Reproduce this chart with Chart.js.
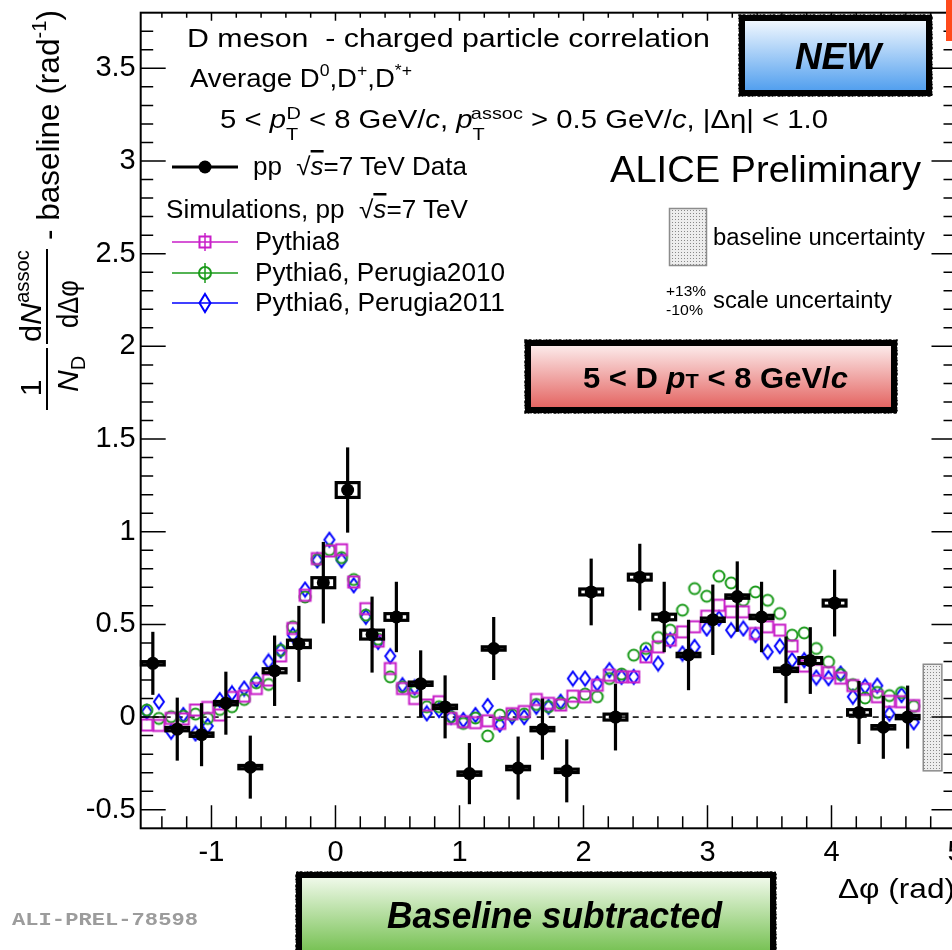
<!DOCTYPE html>
<html lang="en">
<head>
  <meta charset="UTF-8" />
  <title>D meson - charged particle correlation</title>
  <script src="https://cdn.jsdelivr.net/npm/chart.js"></script>
  <style>
    html, body { margin: 0; padding: 0; background: #fff; overflow: hidden; }
    #wrap { position: relative; width: 1000px; height: 950px; }
    #wrap canvas { position: absolute; left: 0; top: 0; }
    #notes { position: absolute; left: 0; top: 0; pointer-events: none; }
    #notes text { font-family: "Liberation Sans", Arial, Helvetica, sans-serif; fill: #000; }
  </style>
</head>
<body>
  <div id="wrap">
    <canvas id="corr" width="1000" height="950"></canvas>

    <svg id="notes" width="952" height="950" viewBox="0 0 952 950" xmlns="http://www.w3.org/2000/svg">
      <defs>
        <linearGradient id="gNew" x1="0" y1="0" x2="0" y2="1">
          <stop offset="0" stop-color="#f7fbff" />
          <stop offset="1" stop-color="#4c9cee" />
        </linearGradient>
        <linearGradient id="gPink" x1="0" y1="0" x2="0" y2="1">
          <stop offset="0" stop-color="#fdf0f0" />
          <stop offset="1" stop-color="#e35f5c" />
        </linearGradient>
        <linearGradient id="gGreen" x1="0" y1="0" x2="0" y2="1">
          <stop offset="0" stop-color="#f4fbef" />
          <stop offset="1" stop-color="#69bb42" />
        </linearGradient>
        <pattern id="dots" width="3" height="3" patternUnits="userSpaceOnUse">
          <rect width="3" height="3" fill="#ededed" />
          <rect width="1" height="1" fill="#888" />
        </pattern>
      </defs>

      <!-- red tab, top right -->
      <rect x="946" y="0" width="6" height="41" fill="#ff4a1c" />

      <!-- y axis title -->
      <g transform="translate(12,412) rotate(-90)">
        <text x="24" y="29" font-size="30" text-anchor="middle">1</text>
        <line x1="2" y1="35" x2="64" y2="35" stroke="#000" stroke-width="2" />
        <text x="20" y="66" font-size="30"><tspan font-style="italic">N</tspan><tspan font-size="20" dy="7">D</tspan></text>
        <text x="70" y="29" font-size="30" textLength="92" lengthAdjust="spacingAndGlyphs">d<tspan font-style="italic">N</tspan><tspan font-size="20" dy="-12">assoc</tspan></text>
        <line x1="68" y1="35" x2="163" y2="35" stroke="#000" stroke-width="2" />
        <text x="84" y="66" font-size="30" textLength="48" lengthAdjust="spacingAndGlyphs">dΔφ</text>
        <text x="172" y="47" font-size="31" textLength="230" lengthAdjust="spacingAndGlyphs">- baseline (rad<tspan font-size="20" dy="-13">-1</tspan><tspan dy="13">)</tspan></text>
      </g>

      <!-- header lines -->
      <text x="187" y="47" font-size="26" textLength="523" lengthAdjust="spacingAndGlyphs">D meson&#160; - charged particle correlation</text>
      <text x="190" y="87" font-size="25" textLength="222" lengthAdjust="spacingAndGlyphs">Average D<tspan font-size="16" dy="-11">0</tspan><tspan dy="11">,D</tspan><tspan font-size="16" dy="-11">+</tspan><tspan dy="11">,D</tspan><tspan font-size="16" dy="-11">*+</tspan></text>
      <text x="220" y="128" font-size="25" textLength="608" lengthAdjust="spacingAndGlyphs">5 &lt; <tspan font-style="italic">p</tspan><tspan font-size="17" dy="12">T</tspan><tspan font-size="17" dx="-10" dy="-21">D</tspan><tspan dy="9"> &lt; 8 GeV/</tspan><tspan font-style="italic">c</tspan>, <tspan font-style="italic">p</tspan><tspan font-size="17" dy="12">T</tspan><tspan font-size="17" dx="-10" dy="-21">assoc</tspan><tspan dy="9"> &gt; 0.5 GeV/</tspan><tspan font-style="italic">c</tspan>, |Δη| &lt; 1.0</text>

      <!-- legend -->
      <line x1="172" y1="167" x2="238" y2="167" stroke="#000" stroke-width="3" />
      <circle cx="205" cy="167" r="6.5" fill="#000" />
      <text x="253" y="175" font-size="25" textLength="214" lengthAdjust="spacingAndGlyphs">pp&#160; √<tspan font-style="italic" text-decoration="overline">s</tspan>=7 TeV Data</text>
      <text x="166" y="218" font-size="25" textLength="302" lengthAdjust="spacingAndGlyphs">Simulations, pp&#160; √<tspan font-style="italic" text-decoration="overline">s</tspan>=7 TeV</text>

      <line x1="172" y1="242" x2="238" y2="242" stroke="#c81ec8" stroke-width="1.5" />
      <line x1="205" y1="233" x2="205" y2="251" stroke="#c81ec8" stroke-width="1.5" />
      <rect x="199.5" y="236.5" width="11" height="11" fill="none" stroke="#c81ec8" stroke-width="2" />
      <text x="255" y="250" font-size="25" textLength="85" lengthAdjust="spacingAndGlyphs">Pythia8</text>

      <line x1="172" y1="273" x2="238" y2="273" stroke="#1a9a1a" stroke-width="1.5" />
      <line x1="205" y1="263" x2="205" y2="283" stroke="#1a9a1a" stroke-width="1.5" />
      <circle cx="205" cy="273" r="6" fill="none" stroke="#1a9a1a" stroke-width="2" />
      <text x="255" y="281" font-size="25" textLength="250" lengthAdjust="spacingAndGlyphs">Pythia6, Perugia2010</text>

      <line x1="172" y1="303" x2="238" y2="303" stroke="#0000ff" stroke-width="1.5" />
      <polygon points="205,294 210.5,303 205,312 199.5,303" fill="none" stroke="#0000ff" stroke-width="2" />
      <text x="255" y="311" font-size="25" textLength="250" lengthAdjust="spacingAndGlyphs">Pythia6, Perugia2011</text>

      <text x="610" y="182" font-size="36" textLength="311" lengthAdjust="spacingAndGlyphs">ALICE Preliminary</text>

      <rect x="669.5" y="208.5" width="37" height="57" fill="url(#dots)" stroke="#8c8c8c" stroke-width="1.5" />
      <text x="713" y="245" font-size="23.5" textLength="212" lengthAdjust="spacingAndGlyphs">baseline uncertainty</text>
      <text x="666" y="296" font-size="15" textLength="40" lengthAdjust="spacingAndGlyphs">+13%</text>
      <text x="666" y="315" font-size="15" textLength="37" lengthAdjust="spacingAndGlyphs">-10%</text>
      <text x="713" y="308" font-size="23.5" textLength="179" lengthAdjust="spacingAndGlyphs">scale uncertainty</text>

      <!-- NEW tag -->
      <rect x="742" y="18" width="187" height="75" fill="url(#gNew)" stroke="#000" stroke-width="6" />
      <rect x="739.5" y="15.5" width="192" height="80" fill="none" stroke="#000" stroke-width="2.5" stroke-dasharray="2 1 3 2 1 1" />
      <text x="838" y="69" font-size="37" font-weight="bold" font-style="italic" text-anchor="middle" textLength="86" lengthAdjust="spacingAndGlyphs">NEW</text>

      <!-- pT tag -->
      <rect x="528" y="343" width="366" height="67" fill="url(#gPink)" stroke="#000" stroke-width="6" />
      <rect x="525.5" y="340.5" width="371" height="72" fill="none" stroke="#000" stroke-width="2.5" stroke-dasharray="2 1 3 2 1 1" />
      <text x="583" y="388" font-size="30" font-weight="bold" textLength="265" lengthAdjust="spacingAndGlyphs">5 &lt; D <tspan font-style="italic">p</tspan><tspan font-size="21">T</tspan> &lt; 8 GeV/<tspan font-style="italic">c</tspan></text>

      <!-- x axis title -->
      <text x="838" y="898" font-size="28" textLength="117" lengthAdjust="spacingAndGlyphs">Δφ (rad)</text>

      <!-- baseline subtracted tag -->
      <rect x="299" y="875" width="474" height="85" fill="url(#gGreen)" stroke="#000" stroke-width="6" />
      <rect x="296.5" y="872.5" width="479" height="90" fill="none" stroke="#000" stroke-width="2.5" stroke-dasharray="2 1 3 2 1 1" />
      <text x="387" y="928" font-size="36" font-weight="bold" font-style="italic" textLength="335" lengthAdjust="spacingAndGlyphs">Baseline subtracted</text>

      <text x="12" y="925" font-size="19" font-weight="bold" textLength="186" lengthAdjust="spacingAndGlyphs" style="font-family: 'Liberation Mono', 'DejaVu Sans Mono', monospace; fill: #9c9c9c;">ALI-PREL-78598</text>
    </svg>
  </div>

  <script>
    // axis ranges and tick labels
    const xRange = [-1.5708, 5.0];
    const yRange = [-0.6, 3.8];
    const xTickLabels = [-1, 0, 1, 2, 3, 4, 5];
    const yTickLabels = [-0.5, 0, 0.5, 1, 1.5, 2, 2.5, 3, 3.5];

    // pp 7 TeV data, bin centres in delta phi
    const dataX = [-1.473, -1.276, -1.080, -0.884, -0.687, -0.491, -0.295, -0.098,
                    0.098,  0.295,  0.491,  0.687,  0.884,  1.080,  1.276,  1.473,
                    1.669,  1.865,  2.062,  2.258,  2.454,  2.651,  2.847,  3.043,
                    3.240,  3.436,  3.633,  3.829,  4.025,  4.222,  4.418,  4.614];
    const dataY = [0.29, -0.065, -0.095, 0.075, -0.27, 0.25, 0.395, 0.725,
                   1.225, 0.445, 0.54, 0.18, 0.055, -0.305, 0.37, -0.275,
                   -0.065, -0.29, 0.675, 0.0, 0.755, 0.54, 0.335, 0.525,
                   0.65, 0.54, 0.255, 0.305, 0.615, 0.025, -0.055, 0.0];
    const statErr = [0.17, 0.17, 0.17, 0.17, 0.17, 0.19, 0.205, 0.22,
                     0.23, 0.205, 0.19, 0.18, 0.17, 0.165, 0.17, 0.17,
                     0.165, 0.17, 0.18, 0.18, 0.18, 0.19, 0.19, 0.19,
                     0.19, 0.19, 0.18, 0.18, 0.18, 0.17, 0.17, 0.17];
    const sysErr = [0.009, 0.009, 0.009, 0.009, 0.009, 0.011, 0.02, 0.027,
                    0.04, 0.024, 0.018, 0.009, 0.009, 0.009, 0.009, 0.009,
                    0.009, 0.009, 0.016, 0.016, 0.016, 0.015, 0.009, 0.009,
                    0.009, 0.009, 0.009, 0.016, 0.016, 0.015, 0.009, 0.009];

    // simulations, finer binning
    const simX = [-1.522, -1.424, -1.325, -1.227, -1.129, -1.031, -0.933, -0.835,
                  -0.736, -0.638, -0.540, -0.442, -0.344, -0.245, -0.147, -0.049,
                   0.049,  0.147,  0.245,  0.344,  0.442,  0.540,  0.638,  0.736,
                   0.835,  0.933,  1.031,  1.129,  1.227,  1.325,  1.424,  1.522,
                   1.620,  1.718,  1.816,  1.914,  2.013,  2.111,  2.209,  2.307,
                   2.405,  2.504,  2.602,  2.700,  2.798,  2.896,  2.994,  3.093,
                   3.191,  3.289,  3.387,  3.485,  3.583,  3.682,  3.780,  3.878,
                   3.976,  4.074,  4.172,  4.271,  4.369,  4.467,  4.565,  4.663];
    const pythia8 = [-0.043, -0.045, -0.007, -0.01, 0.038, 0.052, 0.011, 0.106,
                     0.113, 0.154, 0.2, 0.33, 0.478, 0.657, 0.855, 0.896,
                     0.903, 0.729, 0.585, 0.41, 0.262, 0.154, 0.1, 0.065,
                     0.083, -0.007, -0.025, -0.03, -0.02, -0.034, 0.018, 0.03,
                     0.095, 0.074, 0.065, 0.113, 0.11, 0.172, 0.226, 0.217,
                     0.217, 0.325, 0.379, 0.415, 0.46, 0.487, 0.544, 0.603,
                     0.568, 0.568, 0.451, 0.487, 0.469, 0.383, 0.275, 0.253,
                     0.24, 0.21, 0.17, 0.15, 0.11, 0.085, 0.083, 0.062];
    const perugia2010 = [0.038, -0.007, 0.002, 0.005, 0.016, -0.007, 0.041, 0.056,
                         0.095, 0.185, 0.176, 0.36, 0.487, 0.648, 0.85, 0.903,
                         0.86, 0.742, 0.55, 0.42, 0.217, 0.163, 0.137, 0.056,
                         0.056, 0.002, -0.034, -0.005, -0.102, 0.011, 0.013, 0.016,
                         0.068, 0.056, 0.074, 0.077, 0.124, 0.11, 0.208, 0.232,
                         0.334, 0.37, 0.429, 0.469, 0.577, 0.693, 0.652, 0.76,
                         0.724, 0.63, 0.675, 0.63, 0.559, 0.442, 0.454, 0.37,
                         0.298, 0.23, 0.175, 0.103, 0.133, 0.116, 0.132, 0.058];
    const perugia2011 = [0.029, 0.083, -0.079, 0.011, -0.088, -0.048, 0.092, 0.128,
                         0.154, 0.2, 0.3, 0.36, 0.442, 0.688, 0.846, 0.957,
                         0.846, 0.711, 0.541, 0.406, 0.329, 0.172, 0.16, 0.02,
                         0.038, 0.002, -0.016, 0.011, 0.06, -0.04, 0.002, 0.0,
                         0.056, 0.056, 0.083, 0.208, 0.208, 0.181, 0.253, 0.217,
                         0.217, 0.343, 0.289, 0.415, 0.343, 0.379, 0.478, 0.532,
                         0.469, 0.478, 0.442, 0.352, 0.383, 0.307, 0.307, 0.213,
                         0.21, 0.235, 0.11, 0.165, 0.17, 0.018, 0.119, -0.028];

    // baseline uncertainty band drawn at the right edge
    const baselineUncX = [4.74, 4.89];
    const baselineUnc = [-0.29, 0.285];
    const zeroLineEnd = 4.712;

    const simColors = { p8: '#c81ec8', p2010: '#1a9a1a', p2011: '#0000ff' };
    const boxHalfWidth = 0.092;

    function markerCanvas(w, h, draw) {
      const c = document.createElement('canvas');
      c.width = w;
      c.height = h;
      const g = c.getContext('2d');
      g.lineWidth = 2;
      draw(g);
      return c;
    }

    const squareMark = markerCanvas(16, 16, g => {
      g.strokeStyle = simColors.p8;
      g.strokeRect(2.5, 2.5, 11, 11);
    });
    const circleMark = markerCanvas(16, 16, g => {
      g.strokeStyle = simColors.p2010;
      g.beginPath();
      g.arc(8, 8, 5.5, 0, 2 * Math.PI);
      g.stroke();
    });
    const diamondMark = markerCanvas(14, 18, g => {
      g.strokeStyle = simColors.p2011;
      g.beginPath();
      g.moveTo(7, 2);
      g.lineTo(12, 9);
      g.lineTo(7, 16);
      g.lineTo(2, 9);
      g.closePath();
      g.stroke();
    });

    function dotPattern(ctx) {
      const c = document.createElement('canvas');
      c.width = 3;
      c.height = 3;
      const g = c.getContext('2d');
      g.fillStyle = '#ededed';
      g.fillRect(0, 0, 3, 3);
      g.fillStyle = '#888';
      g.fillRect(0, 0, 1, 1);
      return ctx.createPattern(c, 'repeat');
    }

    const pairs = (xs, ys) => xs.map((x, i) => ({ x: x, y: ys[i] }));

    // ROOT style frame: inward ticks on all four sides, dashed zero line, error boxes
    const rootFrame = {
      id: 'rootFrame',
      beforeDatasetsDraw(chart) {
        const { ctx, chartArea: a, scales: { x, y } } = chart;
        const y0 = y.getPixelForValue(0);
        ctx.save();
        ctx.strokeStyle = '#000';
        ctx.lineWidth = 1.5;
        ctx.setLineDash([6, 6]);
        ctx.beginPath();
        ctx.moveTo(a.left, y0);
        ctx.lineTo(x.getPixelForValue(zeroLineEnd), y0);
        ctx.stroke();
        ctx.setLineDash([]);

        const bx0 = x.getPixelForValue(baselineUncX[0]);
        const bx1 = x.getPixelForValue(baselineUncX[1]);
        const by0 = y.getPixelForValue(baselineUnc[1]);
        const by1 = y.getPixelForValue(baselineUnc[0]);
        ctx.fillStyle = dotPattern(ctx);
        ctx.fillRect(bx0, by0, bx1 - bx0, by1 - by0);
        ctx.strokeStyle = '#8c8c8c';
        ctx.lineWidth = 1.5;
        ctx.strokeRect(bx0, by0, bx1 - bx0, by1 - by0);
        ctx.restore();
      },
      beforeDatasetDraw(chart, args) {
        if (args.index !== 0) return;
        const { ctx, scales: { x, y } } = chart;
        ctx.save();
        ctx.strokeStyle = '#000';
        ctx.lineWidth = 3.2;
        dataX.forEach((vx, i) => {
          const px = x.getPixelForValue(vx);
          ctx.beginPath();
          ctx.moveTo(px, y.getPixelForValue(dataY[i] - statErr[i]));
          ctx.lineTo(px, y.getPixelForValue(dataY[i] + statErr[i]));
          ctx.stroke();
          const l = x.getPixelForValue(vx - boxHalfWidth);
          const r = x.getPixelForValue(vx + boxHalfWidth);
          const t = y.getPixelForValue(dataY[i] + sysErr[i]);
          const b = y.getPixelForValue(dataY[i] - sysErr[i]);
          ctx.strokeRect(l, t, r - l, b - t);
        });
        ctx.restore();
      },
      afterDraw(chart) {
        const { ctx, chartArea: a, scales: { x, y } } = chart;
        ctx.save();
        ctx.strokeStyle = '#000';
        ctx.lineWidth = 2;
        ctx.strokeRect(a.left, a.top, a.right - a.left, a.bottom - a.top);

        const xMinor = [];
        for (let v = -14; v <= 48; v += 2) if (v % 10 !== 0) xMinor.push(v / 10);
        const yMinor = [];
        for (let v = -5; v <= 37; v++) if (v % 5 !== 0) yMinor.push(v / 10);

        ctx.lineWidth = 1.5;
        ctx.beginPath();
        xTickLabels.forEach(v => {
          const px = x.getPixelForValue(v);
          ctx.moveTo(px, a.bottom); ctx.lineTo(px, a.bottom - 23);
          ctx.moveTo(px, a.top); ctx.lineTo(px, a.top + 8);
        });
        xMinor.forEach(v => {
          const px = x.getPixelForValue(v);
          ctx.moveTo(px, a.bottom); ctx.lineTo(px, a.bottom - 12);
          ctx.moveTo(px, a.top); ctx.lineTo(px, a.top + 5);
        });
        yTickLabels.forEach(v => {
          const py = y.getPixelForValue(v);
          ctx.moveTo(a.left, py); ctx.lineTo(a.left + 25, py);
          ctx.moveTo(a.right, py); ctx.lineTo(a.right - 24, py);
        });
        yMinor.forEach(v => {
          const py = y.getPixelForValue(v);
          ctx.moveTo(a.left, py); ctx.lineTo(a.left + 12.5, py);
          ctx.moveTo(a.right, py); ctx.lineTo(a.right - 12, py);
        });
        ctx.stroke();
        ctx.restore();
      }
    };

    const tickFont = { family: '"Liberation Sans", Arial, Helvetica, sans-serif', size: 29 };

    new Chart(document.getElementById('corr'), {
      type: 'scatter',
      data: {
        datasets: [
          {
            label: 'pp √s=7 TeV Data',
            data: pairs(dataX, dataY),
            pointStyle: 'circle',
            pointRadius: 6.5,
            backgroundColor: '#000',
            borderColor: '#000',
            borderWidth: 0
          },
          {
            label: 'Pythia8',
            data: pairs(simX, pythia8),
            pointStyle: squareMark,
            pointRadius: 6
          },
          {
            label: 'Pythia6, Perugia2010',
            data: pairs(simX, perugia2010),
            pointStyle: circleMark,
            pointRadius: 6
          },
          {
            label: 'Pythia6, Perugia2011',
            data: pairs(simX, perugia2011),
            pointStyle: diamondMark,
            pointRadius: 6
          }
        ]
      },
      options: {
        responsive: false,
        animation: false,
        events: [],
        layout: { padding: { top: 12.7, right: 44.5, left: 0, bottom: 0 } },
        plugins: {
          legend: { display: false },
          tooltip: { enabled: false }
        },
        scales: {
          x: {
            type: 'linear',
            min: xRange[0],
            max: xRange[1],
            afterBuildTicks: s => { s.ticks = xTickLabels.map(v => ({ value: v })); },
            afterFit: s => { s.height = 121.7; s.paddingLeft = 0; s.paddingRight = 0; },
            grid: { display: false, drawTicks: false },
            border: { display: false },
            ticks: {
              font: tickFont,
              color: '#000',
              padding: 7,
              autoSkip: false,
              maxRotation: 0,
              callback: v => String(v)
            }
          },
          y: {
            type: 'linear',
            min: yRange[0],
            max: yRange[1],
            afterBuildTicks: s => { s.ticks = yTickLabels.map(v => ({ value: v })); },
            afterFit: s => { s.width = 140.7; s.paddingTop = 0; s.paddingBottom = 0; },
            grid: { display: false, drawTicks: false },
            border: { display: false },
            ticks: {
              font: tickFont,
              color: '#000',
              padding: 5,
              autoSkip: false,
              callback: v => String(v)
            }
          }
        }
      },
      plugins: [rootFrame]
    });
  </script>
</body>
</html>
